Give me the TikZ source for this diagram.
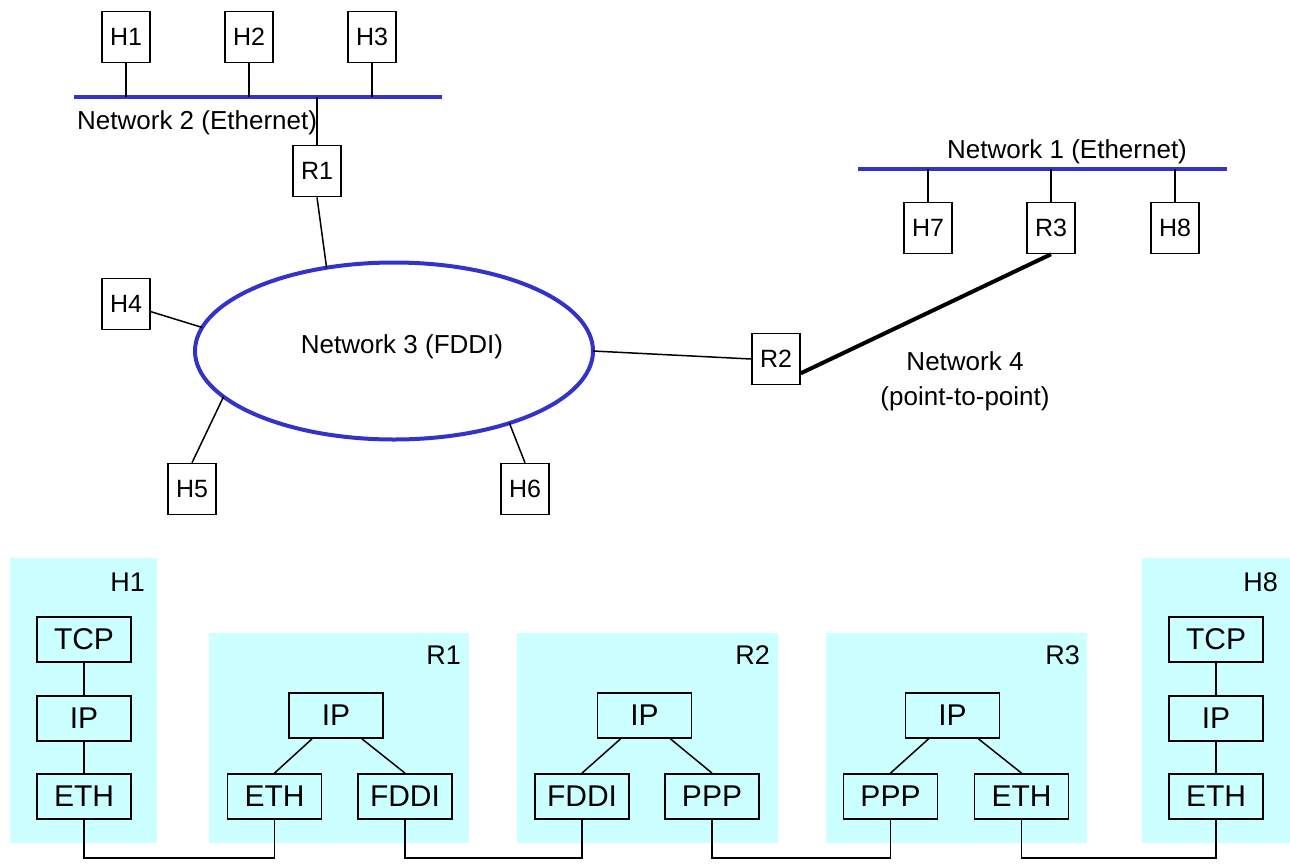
\documentclass[tikz,border=0pt]{standalone}
\usepackage{fontspec}
\setmainfont{Liberation Sans}
\usetikzlibrary{shapes.geometric}
\definecolor{netblue}{RGB}{51,51,204}
\definecolor{panelcyan}{RGB}{204,255,255}

\begin{document}
\begin{tikzpicture}[x=1pt,y=1pt,yscale=-1,xscale=1,
  hostbox/.style={draw, line width=1.5, minimum width=48, minimum height=51, inner sep=0, font=\fontsize{25}{30}\selectfont},
  layerbox/.style={draw, line width=1.8, minimum width=94, minimum height=45, inner sep=0, font=\fontsize{30}{36}\selectfont},
  netline/.style={draw=netblue, line width=4},
  wire/.style={line width=1.5},
  panel/.style={fill=panelcyan},
  netlabel/.style={inner sep=0, font=\fontsize{26}{35}\selectfont},
  panellabel/.style={anchor=east, inner sep=0, font=\fontsize{27}{32}\selectfont}]
\useasboundingbox (0,0) rectangle (1290,863);

%Network 2 (Ethernet)
\coordinate (n2w) at (74,97);
\coordinate (n2e) at (442,97);
\draw [netline] (n2w) -- (n2e);
\node [hostbox] (h1) at (126,37) {H1};
\node [hostbox] (h2) at (249,37) {H2};
\node [hostbox] (h3) at (372,37) {H3};
\node [hostbox] (r1) at (317,171) {R1};
\draw [wire] (h1.south) -- (h1.south |- n2w);
\draw [wire] (h2.south) -- (h2.south |- n2w);
\draw [wire] (h3.south) -- (h3.south |- n2w);
\draw [wire] (r1.north) -- (r1.north |- n2w);
% Text Node
\node [netlabel, anchor=west] (n2label) at (77,123) {Network 2 (Ethernet)};

%Network 3 (FDDI)
\node [ellipse, draw=netblue, line width=4, minimum width=398, minimum height=177, outer sep=0, font=\fontsize{26}{30}\selectfont] (net3) at (394,351) {};
% Text Node
\node [netlabel] (n3label) at (402,347) {Network 3 (FDDI)};
\node [hostbox] (h4) at (126,304) {H4};
\node [hostbox] (h5) at (192,489) {H5};
\node [hostbox] (h6) at (525,489) {H6};
\node [hostbox] (r2) at (776,359) {R2};
\draw [wire] (r1.south) -- (net3.129);
\draw [wire] (h4) -- (net3.173);
\draw [wire] (h5.north) -- (net3.195);
\draw [wire] (h6.north) -- (net3.328);
\draw [wire] (net3.east) -- (r2.west);

%Network 1 (Ethernet)
\coordinate (n1w) at (858,169);
\coordinate (n1e) at (1227,169);
\draw [netline] (n1w) -- (n1e);
% Text Node
\node [netlabel] (n1label) at (1067,152) {Network 1 (Ethernet)};
\node [hostbox] (h7) at (928,228) {H7};
\node [hostbox] (r3) at (1051,228) {R3};
\node [hostbox] (h8) at (1175,228) {H8};
\draw [wire] (h7.north) -- (h7.north |- n1w);
\draw [wire] (r3.north) -- (r3.north |- n1w);
\draw [wire] (h8.north) -- (h8.north |- n1w);

%Network 4 (point-to-point)
\draw [line width=4] (r2.-30) -- (r3.south);
% Text Node
\node [netlabel, align=center] (n4label) at (965,381) {Network 4\\(point-to-point)};

%Protocol stacks
\fill [panel] (10,558) rectangle (157,843);
\fill [panel] (209,633) rectangle (469,843);
\fill [panel] (517,633) rectangle (778,843);
\fill [panel] (826,633) rectangle (1087,843);
\fill [panel] (1142,558) rectangle (1290,843);
% Text Node
\node [panellabel] (ph1) at (145,582) {H1};
\node [panellabel] (pr1) at (461,655) {R1};
\node [panellabel] (pr2) at (770,655) {R2};
\node [panellabel] (pr3) at (1080,655) {R3};
\node [panellabel] (ph8) at (1278,582) {H8};

%H1
\node [layerbox] (h1tcp) at (84,639.5) {TCP};
\node [layerbox] (h1ip) at (84,718.5) {IP};
\node [layerbox] (h1eth) at (84,796.5) {ETH};
\draw [wire] (h1tcp) -- (h1ip);
\draw [wire] (h1ip) -- (h1eth);

%R1
\node [layerbox] (r1ip) at (336,715.5) {IP};
\node [layerbox] (r1eth) at (274.5,796.5) {ETH};
\node [layerbox] (r1fddi) at (405,796.5) {FDDI};
\draw [wire] ([xshift=-24]r1ip.south) -- (r1eth.north);
\draw [wire] ([xshift=26]r1ip.south) -- (r1fddi.north);

%R2
\node [layerbox] (r2ip) at (644.5,715.5) {IP};
\node [layerbox] (r2fddi) at (582,796.5) {FDDI};
\node [layerbox] (r2ppp) at (712,796.5) {PPP};
\draw [wire] ([xshift=-24]r2ip.south) -- (r2fddi.north);
\draw [wire] ([xshift=26]r2ip.south) -- (r2ppp.north);

%R3
\node [layerbox] (r3ip) at (952.5,715.5) {IP};
\node [layerbox] (r3ppp) at (890.5,796.5) {PPP};
\node [layerbox] (r3eth) at (1021.5,796.5) {ETH};
\draw [wire] ([xshift=-24]r3ip.south) -- (r3ppp.north);
\draw [wire] ([xshift=26]r3ip.south) -- (r3eth.north);

%H8
\node [layerbox] (h8tcp) at (1216,639.5) {TCP};
\node [layerbox] (h8ip) at (1216,718.5) {IP};
\node [layerbox] (h8eth) at (1216,796.5) {ETH};
\draw [wire] (h8tcp) -- (h8ip);
\draw [wire] (h8ip) -- (h8eth);

%Links between stacks
\draw [line width=1.8] (h1eth.south) -- (h1eth.south |- 0,858) -| (r1eth.south);
\draw [line width=1.8] (r1fddi.south) -- (r1fddi.south |- 0,858) -| (r2fddi.south);
\draw [line width=1.8] (r2ppp.south) -- (r2ppp.south |- 0,858) -| (r3ppp.south);
\draw [line width=1.8] (r3eth.south) -- (r3eth.south |- 0,858) -| (h8eth.south);

\end{tikzpicture}
\end{document}
